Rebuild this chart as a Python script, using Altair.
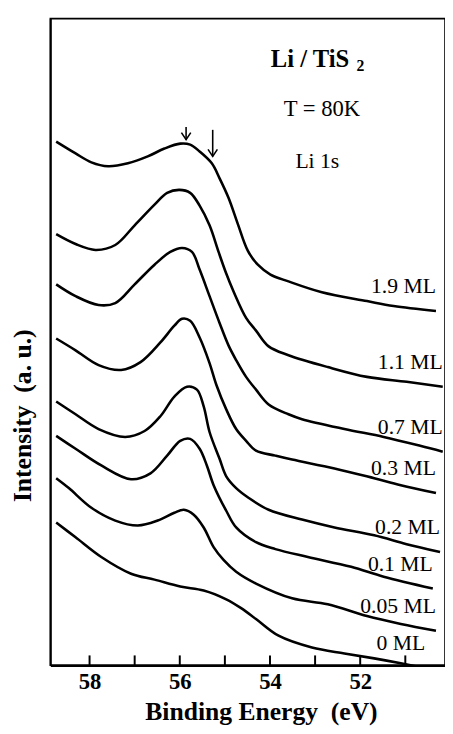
import altair as alt
import pandas as pd

FONT = "Liberation Serif"

# ---- data (binding energy in eV, intensity in a.u., offsets included) ----
labels = ["1.9 ML", "1.1 ML", "0.7 ML", "0.3 ML", "0.2 ML", "0.1 ML", "0.05 ML", "0 ML"]

e_19 = [58.74, 58.31, 57.96, 57.59, 57.15, 56.71, 56.34, 55.99, 55.77, 55.56, 55.29, 55.12, 54.92, 54.71, 54.49, 54.27, 53.99, 53.59, 52.85, 51.85, 51.26, 50.32]
i_19 = [5.32, 5.20, 5.11, 5.07, 5.10, 5.17, 5.25, 5.30, 5.29, 5.22, 5.10, 4.95, 4.75, 4.48, 4.21, 4.07, 3.97, 3.90, 3.79, 3.70, 3.65, 3.60]

e_11 = [58.74, 58.31, 57.87, 57.43, 57.00, 56.56, 56.28, 56.01, 55.77, 55.56, 55.34, 55.14, 54.97, 54.81, 54.53, 54.31, 54.03, 53.59, 52.72, 51.85, 50.97, 50.17]
i_11 = [4.38, 4.28, 4.22, 4.27, 4.47, 4.68, 4.80, 4.83, 4.80, 4.67, 4.47, 4.20, 3.98, 3.80, 3.53, 3.40, 3.24, 3.15, 3.03, 2.93, 2.88, 2.83]

e_07 = [58.74, 58.31, 57.80, 57.43, 57.00, 56.56, 56.21, 55.95, 55.73, 55.56, 55.34, 55.12, 54.92, 54.75, 54.53, 54.31, 54.03, 53.59, 53.29, 52.35, 51.48, 50.67, 50.17]
i_07 = [3.87, 3.75, 3.66, 3.68, 3.87, 4.07, 4.20, 4.24, 4.20, 4.02, 3.75, 3.48, 3.25, 3.10, 2.93, 2.80, 2.65, 2.55, 2.50, 2.40, 2.32, 2.23, 2.17]

e_03 = [58.74, 58.31, 57.80, 57.30, 56.87, 56.43, 56.12, 55.95, 55.77, 55.56, 55.34, 55.19, 54.97, 54.75, 54.53, 54.31, 53.88, 53.51, 52.57, 51.69, 51.10, 50.32]
i_03 = [3.32, 3.20, 3.05, 3.00, 3.08, 3.28, 3.45, 3.52, 3.50, 3.33, 3.07, 2.85, 2.60, 2.40, 2.28, 2.18, 2.13, 2.09, 2.00, 1.90, 1.83, 1.75]

e_02 = [58.74, 58.31, 57.80, 57.21, 56.78, 56.43, 56.12, 55.84, 55.62, 55.47, 55.34, 55.12, 54.97, 54.75, 54.47, 54.03, 53.29, 52.57, 51.69, 50.97, 50.23]
i_02 = [2.68, 2.55, 2.40, 2.32, 2.38, 2.53, 2.73, 2.83, 2.80, 2.63, 2.37, 2.10, 1.92, 1.80, 1.70, 1.58, 1.48, 1.40, 1.32, 1.23, 1.15]

e_01 = [58.74, 58.31, 57.74, 57.08, 56.65, 56.28, 55.99, 55.77, 55.56, 55.40, 55.25, 54.97, 54.75, 54.31, 53.88, 53.16, 52.20, 51.48, 50.39]
i_01 = [2.33, 2.20, 2.03, 1.89, 1.95, 2.13, 2.28, 2.30, 2.20, 2.03, 1.83, 1.57, 1.40, 1.25, 1.18, 1.10, 1.00, 0.90, 0.78]

e_005 = [58.74, 58.46, 57.96, 57.43, 56.93, 56.49, 56.12, 55.91, 55.69, 55.47, 55.25, 55.03, 54.75, 54.31, 53.51, 52.72, 51.85, 51.10, 50.32]
i_005 = [1.90, 1.80, 1.60, 1.47, 1.42, 1.47, 1.55, 1.58, 1.53, 1.40, 1.20, 1.07, 0.95, 0.83, 0.68, 0.62, 0.50, 0.42, 0.35]

e_0 = [58.74, 58.31, 57.74, 57.08, 56.56, 55.99, 55.47, 54.97, 54.64, 54.31, 53.81, 53.07, 52.35, 51.69, 51.10, 50.56]
i_0 = [1.45, 1.30, 1.10, 0.93, 0.87, 0.80, 0.76, 0.67, 0.58, 0.47, 0.30, 0.18, 0.12, 0.07, 0.02, -0.03]

arrow_energy = [55.86, 55.27]
arrow_tail = [5.47, 5.44]
arrow_tip = [5.34, 5.17]

tick_energy = [58, 57, 56, 55, 54, 53, 52, 51]
label_energy = [58, 56, 54, 52]

series = [
    (labels[0], e_19, i_19), (labels[1], e_11, i_11), (labels[2], e_07, i_07),
    (labels[3], e_03, i_03), (labels[4], e_02, i_02), (labels[5], e_01, i_01),
    (labels[6], e_005, i_005), (labels[7], e_0, i_0),
]

rows = []
end_rows = []
for name, es, ins in series:
    for e, v in zip(es, ins):
        rows.append({"series": name, "E": e, "I": v})
    end_rows.append({"series": name, "E": es[-1], "I": ins[-1]})
df = pd.DataFrame(rows)
ends = pd.DataFrame(end_rows)
arrows = pd.DataFrame({"E": arrow_energy, "tail": arrow_tail, "tip": arrow_tip})
ticks = pd.DataFrame({"E": tick_energy})

xscale = alt.Scale(domain=[50.12, 58.87], reverse=True, nice=False, zero=False)
yscale = alt.Scale(domain=[0, 6.57], nice=False, zero=False)

x_axis = alt.Axis(
    values=label_energy, format="d", ticks=False, tickSize=0, grid=False,
    labelFont=FONT, labelFontWeight="bold", labelFontSize=23, labelColor="black",
    labelPadding=6, domainColor="black", domainWidth=2.5,
    title="Binding Energy\u00a0 (eV)", titleFont=FONT, titleFontWeight="bold",
    titleFontSize=26, titleColor="black", titleX=214, titleY=55,
    titleBaseline="alphabetic", titleAlign="center",
)
y_axis = alt.Axis(
    labels=False, ticks=False, tickSize=0, grid=False, domainColor="black", domainWidth=2,
    title="Intensity\u00a0 (a. u.)", titleFont=FONT, titleFontWeight="bold",
    titleFontSize=26, titleColor="black", titleAngle=270, titleX=-28.5, titleY=403,
    titleBaseline="middle", titleAlign="center",
)

lines = alt.Chart(df).mark_line(color="black", strokeWidth=2.6, interpolate="catmull-rom", clip=True).encode(
    x=alt.X("E:Q", scale=xscale, axis=x_axis),
    y=alt.Y("I:Q", scale=yscale, axis=y_axis),
    detail="series:N",
)

end_labels = alt.Chart(ends).mark_text(
    font=FONT, fontSize=22, align="right", baseline="alphabetic", dy=-18, color="black"
).encode(x=alt.X("E:Q", scale=xscale), y=alt.Y("I:Q", scale=yscale), text="series:N")

tick_marks = alt.Chart(ticks).mark_rule(color="black", strokeWidth=2).encode(
    x=alt.X("E:Q", scale=xscale), y=alt.value(657), y2=alt.value(647)
)

shafts = alt.Chart(arrows).mark_rule(color="black", strokeWidth=1.6).encode(
    x=alt.X("E:Q", scale=xscale), y=alt.Y("tail:Q", scale=yscale), y2="tip:Q"
)
heads = alt.Chart(arrows).mark_point(
    shape="M -1 -1.5 L 0 0 L 1 -1.5", filled=False, size=90, color="black", strokeWidth=1.6, opacity=1
).encode(x=alt.X("E:Q", scale=xscale), y=alt.Y("tip:Q", scale=yscale))


def note(text, x, y, size, weight="normal", align="left"):
    return alt.Chart(pd.DataFrame({"t": [text]})).mark_text(
        font=FONT, fontSize=size, fontWeight=weight, align=align, baseline="alphabetic", color="black"
    ).encode(x=alt.value(x), y=alt.value(y), text="t:N")


notes = [
    note("Li / TiS", 224, 49, 25, "bold"),
    note("2", 311, 53, 16, "bold"),
    note("T = 80K", 276, 99, 23, align="center"),
    note("Li 1s", 249, 152, 22),
]

chart = alt.layer(lines, tick_marks, shafts, heads, end_labels, *notes).properties(
    width=401, height=657,
    autosize=alt.AutoSizeParams(type="none"),
    padding={"left": 43, "top": 5, "right": 0, "bottom": 61},
    background="white",
).configure_view(stroke="black", strokeWidth=1.6)

chart.save("out.html", embed_options={"renderer": "svg", "actions": False})
